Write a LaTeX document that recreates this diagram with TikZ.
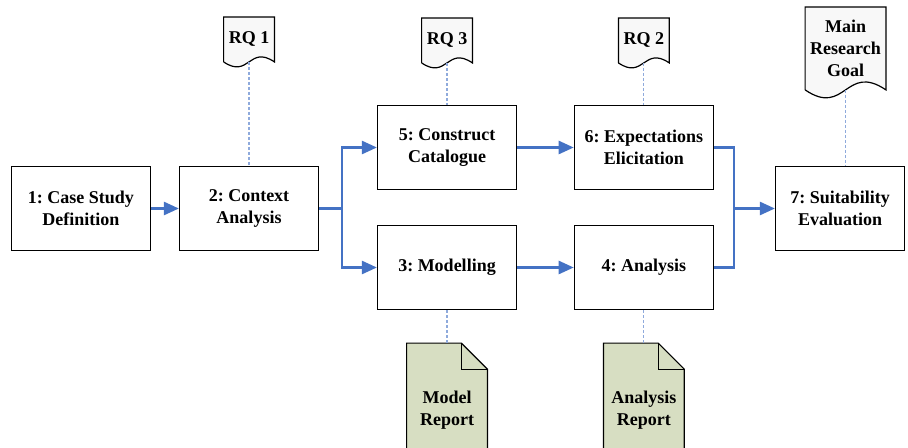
\documentclass[tikz,border=0pt]{standalone}
\usepackage{fontspec}
\setmainfont{Liberation Serif}
\usetikzlibrary{positioning, calc, arrows.meta, backgrounds}
\definecolor{flowblue}{RGB}{68,114,196}
\definecolor{tieblue}{RGB}{143,170,220}
\definecolor{reportgreen}{RGB}{215,222,194}
\definecolor{sheetgray}{RGB}{248,248,248}
\tikzset{
every node/.style = {font = \frenchspacing\bfseries\fontsize{9}{11}\selectfont},
stage/.style = {rectangle, draw, line width = .6pt, minimum width = 69.5pt,
   minimum height = 42pt, inner sep = 2pt, align = center},
question/.style = {rectangle, minimum width = 25pt, minimum height = 22pt,
   inner sep = 1pt, align = center},
report/.style = {rectangle, minimum width = 40pt, minimum height = 67pt,
   inner sep = 1pt, align = center},
sheet/.style = {draw, line width = .6pt, fill = sheetgray},
line/.style = {flowblue, line width = 1.25pt},
flow/.style = {line, -{Triangle[length = 7.5pt, width = 6.5pt]}},
tie/.style = {tieblue, line width = .6pt, dash pattern = on 1.5pt off 1pt}
}

\begin{document}
\begin{tikzpicture}

\useasboundingbox (0,0) rectangle (454pt,-224pt);

%% Stages
\node [stage] (case) at (40.5pt,-104.25pt) {1: Case Study\\Definition};
\node [stage] (context) [right = 13.9pt of case] {2: Context\\Analysis};
\node [stage] (catalogue) [right = 28.9pt of context, yshift = 30.5pt] {5: Construct\\Catalogue};
\node [stage] (modelling) [right = 28.9pt of context, yshift = -29.5pt] {3: Modelling};
\node [stage] (expect) [right = 28.3pt of catalogue] {6: Expectations\\Elicitation};
\node [stage] (analysis) [right = 28.3pt of modelling] {4: Analysis};
\node [stage, minimum width = 64.5pt] (suit) [right = 30.5pt of expect, yshift = -30.5pt] {7: Suitability\\Evaluation};

%% Research questions
\node [question] (rq1) [above = 52pt of context] {RQ 1};
\node [question] (rq3) [above = 21pt of catalogue] {RQ 3};
\node [question] (rq2) [above = 21pt of expect] {RQ 2};
\node [question, minimum width = 40pt, minimum height = 41pt] (goal) [above = 38pt of suit, xshift = 2.75pt] {Main\\Research\\Goal};

%% Reports
\node [report] (modelrep) [below = 16.5pt of modelling] {Model\\Report};
\node [report] (analysisrep) [below = 16.5pt of analysis] {Analysis\\Report};

%% Sheets
\begin{scope}[on background layer]
\foreach \q in {rq1, rq3, rq2, goal}
  \draw [sheet] (\q.south west) |- (\q.north east) -- (\q.south east)
    .. controls ($(\q.south)!.68!90:(\q.south east)$) and ($(\q.south)!.68!-90:(\q.south east)$) .. (\q.south west);
\foreach \r in {modelrep, analysisrep} {
  \draw [sheet, fill = reportgreen] (\r.south west) |- ($(\r.north east)+(-13pt,0)$)
    -- ($(\r.north east)+(0,-13pt)$) -- (\r.south east) -- cycle;
  \draw [line width = .6pt] ($(\r.north east)+(-13pt,0)$) |- ($(\r.north east)+(0,-13pt)$);
}
\end{scope}

%% Flow
\draw [flow] (case) -- (context);
\coordinate (fork) at ($(context.east)+(11.5pt,0)$);
\draw [line] (context) -- (fork);
\draw [flow] (fork) |- (catalogue);
\draw [flow] (fork) |- (modelling);
\draw [flow] (catalogue) -- (expect);
\draw [flow] (modelling) -- (analysis);
\coordinate (join) at ($(suit.west)+(-20.5pt,0)$);
\draw [line] (expect) -| (join) |- (analysis);
\draw [flow] (join) -- (suit);

%% Ties
\draw [tie] (rq1.south) -- (context);
\draw [tie] (rq3.south) -- (catalogue);
\draw [tie] (rq2.south) -- (expect);
\draw [tie] (goal.south) -- (goal.south |- suit.north);
\draw [tie] (modelling) -- (modelrep);
\draw [tie] (analysis) -- (analysisrep);

\end{tikzpicture}
\end{document}
